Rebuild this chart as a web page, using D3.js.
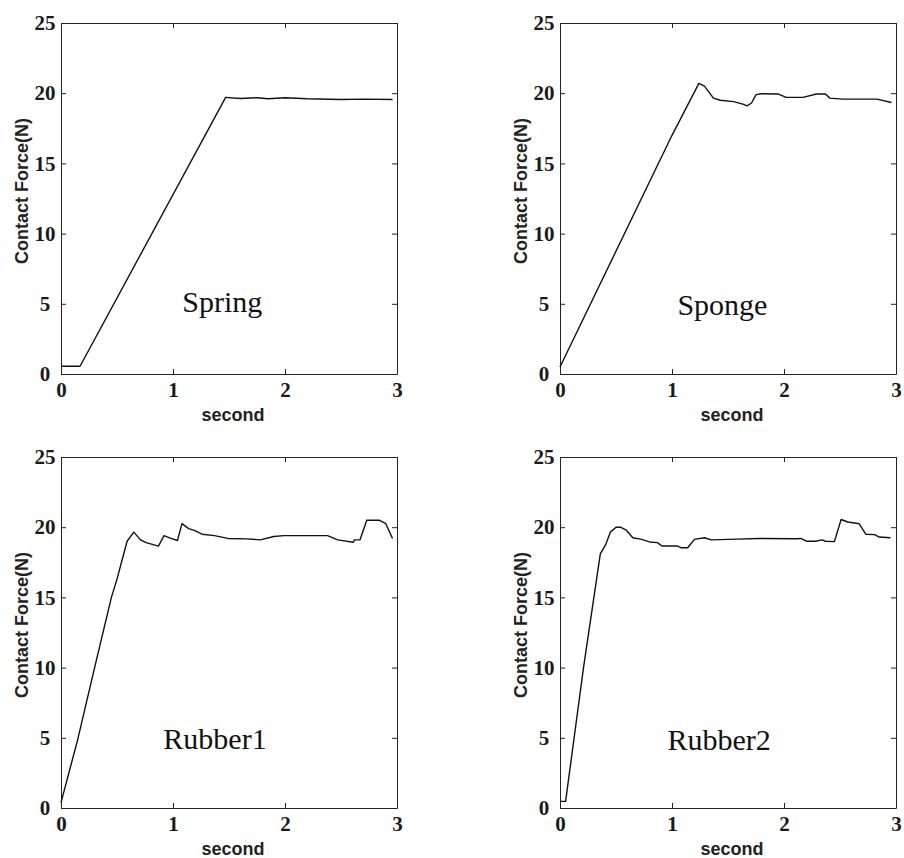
<!DOCTYPE html>
<html>
<head>
<meta charset="utf-8">
<script src="https://cdn.jsdelivr.net/npm/d3@7/dist/d3.min.js"></script>
<style>
  body { margin: 0; background: #fff; }
  svg { display: block; }
  .tick text { font-family: "Liberation Serif", "Times New Roman", serif; font-size: 21px; font-weight: bold; fill: #1a1a1a; }
  .tick line, .domain { stroke: #222; }
  .lab { font-family: "Liberation Sans", Arial, sans-serif; font-size: 18px; font-weight: bold; fill: #222; }
  .name { font-family: "Liberation Serif", "Times New Roman", serif; font-size: 30px; fill: #111; }
</style>
</head>
<body>
<svg id="svgelement" width="904" height="858"></svg>
<script>
	// tick values
	var secondTicks = [0, 1, 2, 3];
	var forceTicks = [0, 5, 10, 15, 20, 25];

	// panel names
	var names = ["Spring", "Sponge", "Rubber1", "Rubber2"];

	// Spring
	var springT = [0, 0.17, 1.47, 1.6, 1.75, 1.85, 2.0, 2.2, 2.5, 2.7, 2.96];
	var springF = [0.55, 0.55, 19.7, 19.62, 19.68, 19.6, 19.68, 19.6, 19.55, 19.58, 19.55];

	// Sponge
	var spongeT = [0, 1.0, 1.24, 1.29, 1.37, 1.43, 1.55, 1.64, 1.67, 1.71, 1.75, 1.80, 1.95, 2.02, 2.17, 2.29, 2.37, 2.41, 2.52, 2.83, 2.96];
	var spongeF = [0.5, 17.0, 20.7, 20.5, 19.65, 19.5, 19.4, 19.2, 19.1, 19.3, 19.9, 19.96, 19.94, 19.7, 19.7, 19.94, 19.94, 19.65, 19.58, 19.58, 19.34];

	// Rubber1
	var rubber1T = [0, 0.15, 0.30, 0.45, 0.50, 0.59, 0.65, 0.71, 0.76, 0.87, 0.92, 0.98, 1.04, 1.08, 1.14, 1.19, 1.26, 1.37, 1.49, 1.66, 1.78, 1.9, 1.99, 2.38, 2.47, 2.61, 2.62, 2.67, 2.73, 2.84, 2.90, 2.96];
	var rubber1F = [0.38, 4.9, 10.0, 15.0, 16.3, 19.0, 19.65, 19.1, 18.9, 18.65, 19.4, 19.2, 19.05, 20.25, 19.9, 19.77, 19.5, 19.4, 19.2, 19.17, 19.1, 19.34, 19.4, 19.4, 19.1, 18.93, 19.1, 19.1, 20.5, 20.5, 20.25, 19.2];

	// Rubber2
	var rubber2T = [0, 0.05, 0.21, 0.36, 0.41, 0.45, 0.50, 0.54, 0.59, 0.65, 0.72, 0.80, 0.87, 0.91, 1.05, 1.08, 1.14, 1.20, 1.29, 1.35, 1.58, 1.78, 2.11, 2.15, 2.20, 2.28, 2.34, 2.37, 2.45, 2.51, 2.57, 2.67, 2.73, 2.81, 2.85, 2.95];
	var rubber2F = [0.47, 0.47, 10.0, 18.1, 18.8, 19.65, 20.0, 20.0, 19.8, 19.25, 19.15, 18.95, 18.9, 18.66, 18.66, 18.54, 18.54, 19.13, 19.25, 19.1, 19.15, 19.2, 19.18, 19.2, 19.0, 19.0, 19.1, 19.0, 18.97, 20.55, 20.37, 20.25, 19.5, 19.47, 19.3, 19.25];

	var seriesT = [springT, spongeT, rubber1T, rubber2T];
	var seriesF = [springF, spongeF, rubber1F, rubber2F];

	// layout of the 2x2 grid
	var lefts = [61, 560, 61, 560];
	var tops = [23, 23, 457, 457];
	var pw = 336, ph = 351;
	var namePos = [[1.44, 4.4], [1.45, 4.2], [1.375, 4.2], [1.42, 4.13]];

	var svg = d3.select("#svgelement");

	names.forEach(function(name, i) {
		var g = svg.append("g").attr("transform", "translate(" + lefts[i] + "," + tops[i] + ")");
		var x = d3.scaleLinear().domain([0, 3]).range([0, pw]);
		var y = d3.scaleLinear().domain([0, 25]).range([ph, 0]);

		g.append("g").attr("transform", "translate(0," + ph + ")")
			.call(d3.axisBottom(x).tickValues(secondTicks).tickFormat(d3.format("d")).tickSizeInner(-5).tickSizeOuter(0).tickPadding(8));
		g.append("g")
			.call(d3.axisTop(x).tickValues(secondTicks).tickFormat("").tickSizeInner(-5).tickSizeOuter(0));
		var yl = g.append("g")
			.call(d3.axisLeft(y).tickValues(forceTicks).tickFormat(d3.format("d")).tickSizeInner(-5).tickSizeOuter(0));
		// MATLAB-ish centred tick labels
		yl.selectAll(".tick text").attr("text-anchor", "middle").attr("x", -16);
		g.append("g").attr("transform", "translate(" + pw + ",0)")
			.call(d3.axisRight(y).tickValues(forceTicks).tickFormat("").tickSizeInner(-5).tickSizeOuter(0));

		var pts = seriesT[i].map(function(t, k) { return [t, seriesF[i][k]]; });
		g.append("path")
			.datum(pts)
			.attr("fill", "none")
			.attr("stroke", "#111")
			.attr("stroke-width", 1.4)
			.attr("stroke-linejoin", "round")
			.attr("d", d3.line().x(function(d) { return x(d[0]); }).y(function(d) { return y(d[1]); }));

		g.append("text").attr("class", "name")
			.attr("x", x(namePos[i][0])).attr("y", y(namePos[i][1]))
			.attr("text-anchor", "middle")
			.text(name);

		g.append("text").attr("class", "lab")
			.attr("x", pw / 2 + 4).attr("y", ph + 47)
			.attr("text-anchor", "middle")
			.text("second");

		g.append("text").attr("class", "lab")
			.attr("transform", "translate(-33," + 168 + ") rotate(-90)")
			.attr("text-anchor", "middle")
			.text("Contact Force(N)");
	});
</script>
</body>
</html>
